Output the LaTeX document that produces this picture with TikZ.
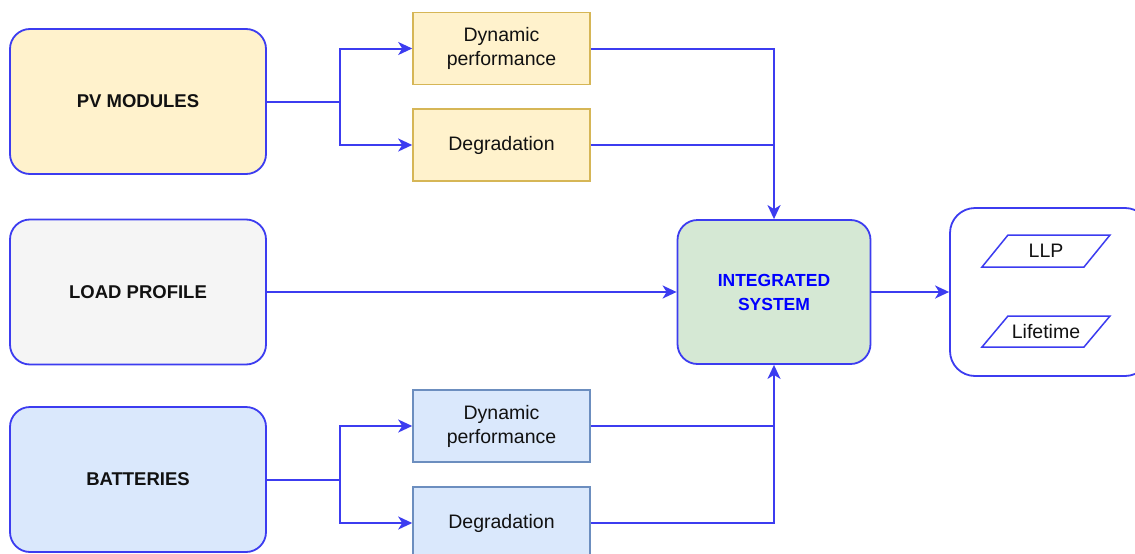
\documentclass[tikz,border=0pt]{standalone}
\usepackage{fontspec}
\setmainfont{Liberation Sans}
\usetikzlibrary{arrows.meta}
\definecolor{lineblue}{RGB}{60,60,240}
\definecolor{yfill}{HTML}{FFF2CC}
\definecolor{ydraw}{HTML}{D6B656}
\definecolor{bfill}{HTML}{DAE8FC}
\definecolor{bdraw}{HTML}{6C8EBF}
\definecolor{gfill}{HTML}{D5E8D4}
\definecolor{lfill}{HTML}{F5F5F5}
\definecolor{txt}{HTML}{111111}
\definecolor{intblue}{HTML}{0000FF}
\tikzset{
  bigbox/.style={draw=lineblue, line width=1.8pt, rounded corners=20pt, minimum width=256pt, minimum height=145pt, font=\fontsize{18.5}{20}\selectfont\bfseries, text=txt, inner sep=0pt},
  smallbox/.style={line width=1.6pt, minimum width=177pt, minimum height=72pt, font=\fontsize{19.5}{24}\selectfont, text=txt, align=center, inner sep=0pt},
  ybox/.style={smallbox, draw=ydraw, fill=yfill},
  bbox/.style={smallbox, draw=bdraw, fill=bfill},
  intbox/.style={draw=lineblue, line width=1.8pt, rounded corners=20pt, fill=gfill, minimum width=193pt, minimum height=144pt, font=\fontsize{17.5}{24}\selectfont\bfseries, text=intblue, align=center, inner sep=0pt},
  outbox/.style={draw=lineblue, line width=1.8pt, rounded corners=25pt, fill=white},
  para/.style={draw=lineblue, line width=1.5pt, line join=miter},
  paratext/.style={font=\fontsize{19.5}{20}\selectfont, text=txt, inner sep=0pt},
  conn/.style={draw=lineblue, line width=2pt},
  arr/.style={conn, -{Stealth[length=14pt,width=13pt,inset=4pt]}},
}
\begin{document}
\begin{tikzpicture}[x=1pt,y=-1pt]
\useasboundingbox (0,0) rectangle (1135,554);
\clip (0,0) rectangle (1135,554);
\fill[white] (0,0) rectangle (1135,554);

% left big boxes
\node[bigbox, fill=yfill] (pv) at (138,101.5) {PV MODULES};
\node[bigbox, fill=lfill] (load) at (138,292) {LOAD PROFILE};
\node[bigbox, fill=bfill] (bat) at (138,479.5) {BATTERIES};

% small boxes
\node[ybox] (dyn1) at (501.5,48.5) {Dynamic\\performance};
\node[ybox] (deg1) at (501.5,145) {Degradation};
\node[bbox] (dyn2) at (501.5,426) {Dynamic\\performance};
\node[bbox] (deg2) at (501.5,523) {Degradation};

% integrated system
\node[intbox] (int) at (774,292) {INTEGRATED\\SYSTEM};

% output box
\node[outbox, minimum width=200pt, minimum height=168pt, inner sep=0pt] (out) at (1050,292) {};

% parallelograms
\coordinate (llpc) at (1046,251);
\coordinate (lifec) at (1046,331.5);
\draw[para] (982,267) -- (1008,235) -- (1110,235) -- (1084,267) -- cycle;
\node[paratext] (llp) at (llpc) {LLP};
\draw[para] (982,347) -- (1008,316) -- (1110,316) -- (1084,347) -- cycle;
\node[paratext] (life) at (lifec) {Lifetime};

% branch points
\coordinate (pvb) at (340,101.5);
\coordinate (batb) at (340,479.5);

% connectors
\draw[conn] (pv.east) -- (pvb);
\draw[arr] (pvb) |- (dyn1.west);
\draw[arr] (pvb) |- (deg1.west);
\draw[conn] (bat.east) -- (batb);
\draw[arr] (batb) |- (dyn2.west);
\draw[arr] (batb) |- (deg2.west);

\draw[arr] (dyn1.east) -| (int.north);
\draw[conn] (deg1.east) -- (deg1.east -| int.north);
\draw[arr] (deg2.east) -| (int.south);
\draw[conn] (dyn2.east) -- (dyn2.east -| int.south);

\draw[arr] (load.east) -- (int.west);
\draw[arr] (int.east) -- (out.west);
\end{tikzpicture}
\end{document}
